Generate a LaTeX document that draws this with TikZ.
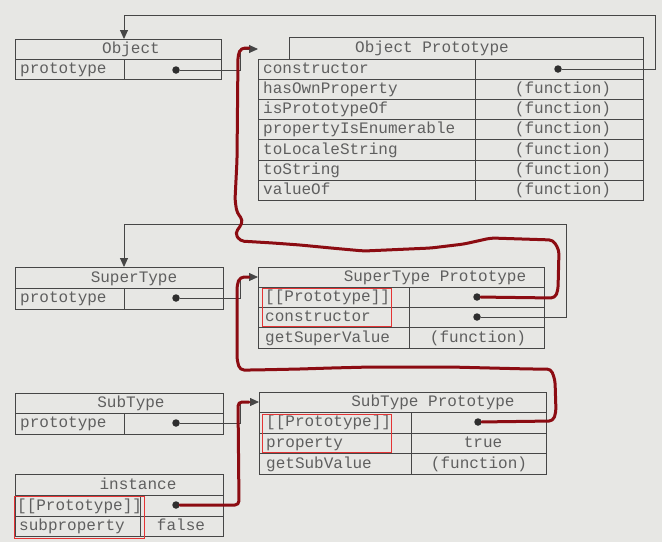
\documentclass[tikz,border=0pt]{standalone}
\usepackage{fontspec}
\setmonofont{Liberation Mono}
\usetikzlibrary{arrows.meta}
\definecolor{bg}{RGB}{231,231,228}
\definecolor{ink}{RGB}{70,70,70}
\definecolor{txt}{RGB}{95,95,95}
\definecolor{redpen}{RGB}{140,12,18}
\definecolor{redbox}{RGB}{228,52,52}
\begin{document}
\begin{tikzpicture}[x=1pt,y=-1pt,
  grid/.style={draw=ink,line width=0.9pt},
  lbl/.style={anchor=west,inner sep=0pt,text=txt,font=\fontsize{16}{18}\selectfont\ttfamily,text height=11pt,text depth=2pt},
  val/.style={lbl,anchor=center},
  dotnode/.style={circle,fill=black!82,inner sep=0pt,minimum size=7.5pt},
  link/.style={draw=ink,line width=0.9pt},
  arr/.style={link,-{Triangle[length=9pt,width=8pt]}},
  pen/.style={draw=redpen,line width=3pt,line cap=round,line join=round,rounded corners=4pt},
  hilite/.style={draw=redbox,line width=0.8pt}]
\useasboundingbox (0,0) rectangle (662,542);
\fill[bg] (0,0) rectangle (662,542);

% ---------- tables ----------
% Object
\draw[grid] (15,39) rectangle (221,79);
\draw[grid] (15,59) -- (221,59) (124,59) -- (124,79);
% Object Prototype
\draw[grid] (289,37) rectangle (643,59);
\draw[grid] (258,59) rectangle (643,200);
\foreach \yy in {79,99,119,139,160,180} \draw[grid] (258,\yy) -- (643,\yy);
\draw[grid] (475,59) -- (475,200);
% SuperType
\draw[grid] (15,267) rectangle (223,309);
\draw[grid] (15,288) -- (223,288) (124,288) -- (124,309);
% SuperType Prototype
\draw[grid] (258,267) rectangle (544,348);
\foreach \yy in {287,307,327} \draw[grid] (258,\yy) -- (544,\yy);
\draw[grid] (409,287) -- (409,348);
% SubType
\draw[grid] (15,393) rectangle (223,434);
\draw[grid] (15,413) -- (223,413) (124,413) -- (124,434);
% SubType Prototype
\draw[grid] (259,392) rectangle (546,474);
\foreach \yy in {412,433,453} \draw[grid] (259,\yy) -- (546,\yy);
\draw[grid] (411,412) -- (411,474);
% instance
\draw[grid] (15,474) rectangle (223,536);
\draw[grid] (15,495) -- (223,495) (15,516) -- (223,516) (140,495) -- (140,536);

% ---------- texts ----------
\node[val] (tObj) at (131,49) {Object};
\node[lbl] (lObjProto) at (20,69) {prototype};
\node[dotnode] (od) at (176,70) {};

\node[val] (tOP) at (432,48) {Object Prototype};
\node[lbl] (lOP1) at (263,69) {constructor};
\node[lbl] (lOP2) at (263,89) {hasOwnProperty};
\node[lbl] (lOP3) at (263,109) {isPrototypeOf};
\node[lbl] (lOP4) at (263,129) {propertyIsEnumerable};
\node[lbl] (lOP5) at (263,149.5) {toLocaleString};
\node[lbl] (lOP6) at (263,170) {toString};
\node[lbl] (lOP7) at (263,190) {valueOf};
\node[dotnode] (opd) at (558,69) {};
\node[val] (vOP2) at (563,89) {(function)};
\node[val] (vOP3) at (563,109) {(function)};
\node[val] (vOP4) at (563,129) {(function)};
\node[val] (vOP5) at (563,149.5) {(function)};
\node[val] (vOP6) at (563,170) {(function)};
\node[val] (vOP7) at (563,190) {(function)};

\node[val] (tST) at (134,278) {SuperType};
\node[lbl] (lST) at (20,298) {prototype};
\node[dotnode] (sd) at (176,298) {};

\node[val] (tSP) at (435,277) {SuperType Prototype};
\node[lbl] (lSP1) at (265,297) {[[Prototype]]};
\node[lbl] (lSP2) at (265,317) {constructor};
\node[lbl] (lSP3) at (265,337.5) {getSuperValue};
\node[dotnode] (spd1) at (477,297) {};
\node[dotnode] (spd2) at (477,317) {};
\node[val] (vSP3) at (478,337.5) {(function)};

\node[val] (tBT) at (131,403) {SubType};
\node[lbl] (lBT) at (20,423) {prototype};
\node[dotnode] (bd) at (176,423) {};

\node[val] (tBP) at (433,402) {SubType Prototype};
\node[lbl] (lBP1) at (266,422) {[[Prototype]]};
\node[lbl] (lBP2) at (266,443) {property};
\node[lbl] (lBP3) at (266,463.5) {getSubValue};
\node[dotnode] (bpd) at (478,422) {};
\node[val] (vBP2) at (483,443) {true};
\node[val] (vBP3) at (479,463.5) {(function)};

\node[val] (tIn) at (138,485) {instance};
\node[lbl] (lIn1) at (17,505.5) {[[Prototype]]};
\node[lbl] (lIn2) at (19,526) {subproperty};
\node[dotnode] (id) at (176,505) {};
\node[val] (vIn2) at (181,526) {false};

% red highlight boxes
\draw[hilite] (262,288) rectangle (391,326);
\draw[hilite] (262,414) rectangle (391,452);
\draw[hilite] (14,496) rectangle (144,538);

% ---------- connectors ----------
\coordinate (opIn) at (258,49);
\coordinate (objTop) at (124,39);
\coordinate (spIn) at (258,277);
\coordinate (stTop) at (124,267);
\coordinate (bpIn) at (259,402);

\draw[arr] (od) -- (240,70) |- (opIn);
\draw[arr] (opd) -- (655,69) -- (655,15) -| (objTop);
\draw[arr] (sd) -- (240,298) |- (spIn);
\draw[arr] (spd2) -- (566,317) -- (566,224) -| (stTop);
\draw[arr] (bd) -- (240,423) |- (bpIn);

% red pen tracing
\draw[pen] (id) -- (239,505) -- (238,402) -- (249,402);
\draw[pen] (bpd) -- (553,421) -- (556,412) -- (555,380) -- (551,369) -- (530,369)
  -- (450,367) -- (371,367) -- (331,368) -- (300,369) -- (253,370) -- (240,370)
  -- (237,360) -- (237,285) -- (240,277) -- (249,277);
\draw[pen] (spd1) -- (555,298) -- (558,290) -- (559,250) -- (553,240) -- (491,238)
  -- (464,244) -- (431,248) -- (364,251) -- (331,248) -- (300,245) -- (273,243)
  -- (240,241) -- (235,233) -- (240,227) -- (243,220) -- (237,213) -- (235,200)
  -- (237,160) -- (238,55) -- (241,48) -- (249,48);
\end{tikzpicture}
\end{document}
